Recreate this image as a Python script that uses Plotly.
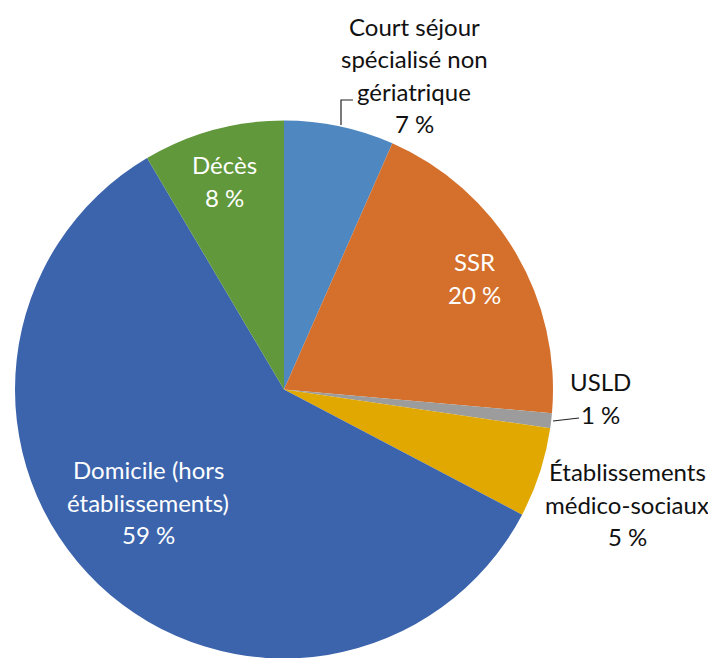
import plotly.graph_objects as go

labels = ["Court séjour spécialisé non gériatrique", "SSR", "USLD",
          "Établissements médico-sociaux", "Domicile (hors établissements)", "Décès"]
values = [6.6, 19.8, 0.9, 5.4, 58.8, 8.5]
colors = ["#4f88c1", "#d4702b", "#9c9c9c", "#e0a800", "#3c64ac", "#60983b"]
label_lines = [["Court séjour", "spécialisé non", "gériatrique"], ["SSR"], ["USLD"],
               ["Établissements", "médico-sociaux"], ["Domicile (hors", "établissements)"], ["Décès"]]
text_colors = ["#111111", "white", "#111111", "#111111", "white", "white"]

W, H = 716, 658
OFF = 8  # page body margin
# label centres in pixels (layout)
label_pos = [(414, 75), (474, 278), (600, 398), (627, 504), (148, 502), (224, 181)]
LINE_H = 32.5

fig = go.Figure(go.Pie(
    labels=labels, values=values, sort=False, direction="clockwise", rotation=0,
    marker=dict(colors=colors, line=dict(width=0)),
    textinfo="none", hoverinfo="label+percent",
    domain=dict(x=[(15 - OFF) / W, (553 - OFF) / W], y=[1 - (659 - OFF) / H, 1 - (120 - OFF) / H]),
    showlegend=False,
))

anns = []
for lines, v, (px, py), c in zip(label_lines, values, label_pos, text_colors):
    all_lines = lines + [f"{round(v)} %"]
    n = len(all_lines)
    for i, ln in enumerate(all_lines):
        ly = py + (i - (n - 1) / 2) * LINE_H
        anns.append(dict(
            x=(px - OFF) / W, y=1 - (ly - OFF) / H, xref="paper", yref="paper",
            text=ln, showarrow=False,
            font=dict(family="Lato", size=24, color=c), align="center",
            xanchor="center", yanchor="middle",
        ))

def P(x, y):
    return f"{(x - OFF) / W} {1 - (y - OFF) / H}"

shapes = [
    dict(type="path", xref="paper", yref="paper",
         path=f"M {P(341, 125)} L {P(341, 100)} L {P(353, 100)}",
         line=dict(color="#222222", width=1.2)),
    dict(type="path", xref="paper", yref="paper",
         path=f"M {P(553, 421)} L {P(579, 418)}",
         line=dict(color="#222222", width=1.2)),
]

fig.update_layout(
    width=W, height=H, margin=dict(l=0, r=0, t=0, b=0),
    paper_bgcolor="white", plot_bgcolor="white",
    annotations=anns, shapes=shapes,
)
fig.write_html("out.html")
